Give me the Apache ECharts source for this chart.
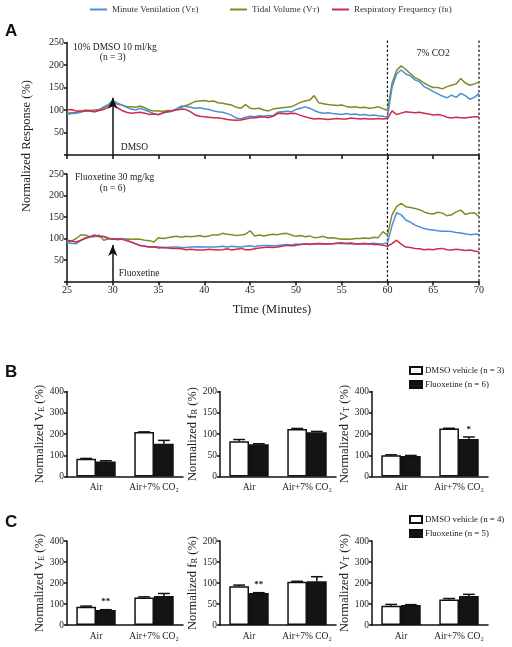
<!DOCTYPE html>
<html><head><meta charset="utf-8">
<script src="https://cdn.jsdelivr.net/npm/echarts@6/dist/echarts.min.js"></script>
<style>html,body{margin:0;padding:0;background:#fff}#c{width:512px;height:647px}</style>
</head><body><div id="c"></div>
<script>
// ---------- Panel A: time course (minutes) ----------
const minutes = [25,25.5,26,26.5,27,27.5,28,28.5,29,29.5,30,30.5,31,31.5,32,32.5,33,33.5,34,34.5,35,35.5,36,36.5,37,37.5,38,38.5,39,39.5,40,40.5,41,41.5,42,42.5,43,43.5,44,44.5,45,45.5,46,46.5,47,47.5,48,48.5,49,49.5,50,50.5,51,51.5,52,52.5,53,53.5,54,54.5,55,55.5,56,56.5,57,57.5,58,58.5,59,59.5,60,60.5,61,61.5,62,62.5,63,63.5,64,64.5,65,65.5,66,66.5,67,67.5,68,68.5,69,69.5,70];
const timeTicks = [25,30,35,40,45,50,55,60,65,70];

// 10% DMSO 10 ml/kg (n = 3)
const dmsoVE = [90,92,93,95,98,97,96,100,107,112,121,116,111,106,102,100,104,100,96,92,89,94,95,97,103,109,108,106,104,105,103,101,98,96,95,92,88,82,80,84,86,85,87,86,88,87,95,96,97,96,101,104,107,104,99,95,93,94,92,91,90,92,90,91,89,90,88,89,87,86,84,150,180,189,180,176,167,163,152,147,141,136,131,127,133,128,137,132,124,128,137];
const dmsoVT = [93,94,95,97,100,99,100,101,105,110,116,113,111,108,107,106,109,105,100,98,98,97,99,98,103,106,110,114,119,120,121,119,120,116,115,113,111,106,104,112,104,103,104,100,98,102,104,105,106,107,112,117,120,122,132,116,114,112,111,110,111,108,106,107,105,106,104,105,107,103,99,160,188,198,190,181,172,167,160,154,150,150,147,152,155,158,170,160,155,158,162];
const dmsoFR = [100,101,98,98,98,99,96,99,101,106,113,105,99,95,93,94,95,93,90,91,90,94,97,99,100,102,101,96,89,86,85,84,83,82,81,79,78,77,78,80,82,83,84,85,83,86,92,93,91,93,92,88,85,82,80,81,80,79,80,81,80,80,82,81,80,81,80,80,81,80,81,98,90,93,96,95,94,95,93,91,89,90,88,84,82,84,83,82,84,85,85];

// Fluoxetine 30 mg/kg (n = 6)
const fluoVE = [90,89,88,95,102,104,105,106,104,100,98,99,100,96,92,87,83,82,80,81,80,79,79,80,80,79,79,80,80,81,80,80,80,81,82,80,82,81,80,82,83,81,83,84,84,83,84,85,86,85,87,86,88,87,88,89,88,87,88,89,88,89,90,88,88,89,88,89,88,87,90,130,160,155,143,138,131,127,123,121,120,118,117,117,116,114,113,111,109,110,110];
const fluoVT = [92,94,100,108,108,104,104,108,96,99,100,97,98,99,98,99,98,96,95,92,102,100,102,104,105,103,105,104,105,107,104,106,109,108,112,110,109,107,108,110,118,106,108,106,108,110,109,111,112,108,105,107,104,106,102,103,105,101,102,100,98,99,98,100,100,101,100,103,102,116,108,155,174,182,174,172,170,167,162,158,157,161,159,153,155,162,166,156,159,160,151];
const fluoFR = [96,94,92,96,100,104,108,104,105,101,98,99,98,95,92,88,84,82,80,81,78,79,78,77,77,76,74,75,74,73,73,75,74,73,74,76,73,75,77,74,74,76,78,79,80,79,80,82,84,83,84,86,87,86,88,87,88,87,88,89,90,88,88,87,88,87,88,86,86,84,82,88,96,87,80,79,77,76,74,75,74,76,77,74,73,75,74,72,73,71,69];

const injectionTime = 30;      // arrow position (min)
const arrowTipTop = 127;       // arrow tip, DMSO panel (%)
const arrowTipBottom = 85;     // arrow tip, fluoxetine panel (%)
const co2Start = 60, co2End = 70;

// ---------- Panels B & C: bar summaries ----------
const barCategories = ['Air', 'Air+7% CO\u2082'];

const B_VE_vehicle = [84, 209],  B_VE_vehicleErr = [1, 1];
const B_VE_fluox   = [71, 154],  B_VE_fluoxErr   = [3, 16];
const B_VE_sig = ['', ''];
const B_FR_vehicle = [83, 112],  B_FR_vehicleErr = [4, 1];
const B_FR_fluox   = [76, 104],  B_FR_fluoxErr   = [1, 2];
const B_FR_sig = ['', ''];
const B_VT_vehicle = [100, 226], B_VT_vehicleErr = [2, 1];
const B_VT_fluox   = [97, 176],  B_VT_fluoxErr   = [2, 10];
const B_VT_sig = ['', '*'];

const C_VE_vehicle = [87, 131],  C_VE_vehicleErr = [3, 3];
const C_VE_fluox   = [71, 138],  C_VE_fluoxErr   = [2, 12];
const C_VE_sig = ['**', ''];
const C_FR_vehicle = [92, 103],  C_FR_vehicleErr = [3, 1];
const C_FR_fluox   = [76, 104],  C_FR_fluoxErr   = [1, 11];
const C_FR_sig = ['**', ''];
const C_VT_vehicle = [92, 122],  C_VT_vehicleErr = [6, 4];
const C_VT_fluox   = [95, 138],  C_VT_fluoxErr   = [2, 8];
const C_VT_sig = ['', ''];

const B_vehName = 'DMSO vehicle (n = 3)', B_fluoName = 'Fluoxetine (n = 6)';
const C_vehName = 'DMSO vehicle (n = 4)', C_fluoName = 'Fluoxetine (n = 5)';

// ---------- styling ----------
const SERIF = '"Liberation Serif","Times New Roman",serif';
const SANS = '"Liberation Sans",Arial,sans-serif';
const COL_VE = '#4a8fd6', COL_VT = '#808b28', COL_FR = '#d12a4c';
const INK = '#111';
const BAR_FRAC = 0.34;

const grids = [
  {left:67, top:42.5, width:412, height:112.5},
  {left:67, top:174, width:412, height:107.5},
  {left:67, top:391.5, width:116, height:85},
  {left:220, top:391.5, width:116, height:85},
  {left:372, top:391.5, width:116, height:85},
  {left:67, top:541, width:116, height:84},
  {left:220, top:541, width:116, height:84},
  {left:372, top:541, width:116, height:84}
].map(g => Object.assign({containLabel:false, outerBoundsMode:'none'}, g));

const axisLineStyle = {color: INK, width: 1.5};

function timeX(gi, labels) {
  return {type:'value', gridIndex:gi, min:25, max:70, interval:5,
    axisLine:{show:true, onZero:false, lineStyle:axisLineStyle},
    axisTick:{show:true, length:4, lineStyle:axisLineStyle},
    axisLabel:{show:labels, fontFamily:SERIF, fontSize:10, color:'#222', margin:4,
      customValues: timeTicks},
    splitLine:{show:false}};
}
function timeY(gi) {
  return {type:'value', gridIndex:gi, min:0, max:250, interval:50,
    axisLine:{show:true, lineStyle:axisLineStyle},
    axisTick:{show:true, length:3, lineStyle:axisLineStyle},
    axisLabel:{fontFamily:SERIF, fontSize:10, color:'#222', margin:3,
      formatter: v => v === 0 ? '' : String(v)},
    splitLine:{show:false}};
}
function barX(gi) {
  return {type:'category', gridIndex:gi, data:barCategories,
    axisLine:{show:true, lineStyle:axisLineStyle}, axisTick:{show:false},
    axisLabel:{fontFamily:SERIF, fontSize:9.5, color:'#222', margin:6, interval:0},
    splitLine:{show:false}};
}
function barY(gi, max, interval, sub) {
  return {type:'value', gridIndex:gi, min:0, max:max, interval:interval,
    axisLine:{show:true, lineStyle:axisLineStyle},
    axisTick:{show:true, length:3, lineStyle:axisLineStyle},
    axisLabel:{fontFamily:SERIF, fontSize:9.5, color:'#222', margin:3},
    splitLine:{show:false},
    name:'{t|Normalized ' + sub[0] + '}{s|' + sub[1] + '}{t| (%)}',
    nameLocation:'middle', nameRotate:90, nameGap:19,
    nameTextStyle:{rich:{
      t:{fontFamily:SERIF, fontSize:12.5, color:'#222'},
      s:{fontFamily:SERIF, fontSize:8.5, color:'#222', verticalAlign:'bottom'}}}};
}

function lineSeries(gi, name, data, color, z) {
  return {type:'line', name:name, xAxisIndex:gi, yAxisIndex:gi,
    data: minutes.map((t, i) => [t, data[i]]),
    showSymbol:false, symbol:'none', z:z,
    lineStyle:{color:color, width:1.5}, itemStyle:{color:color}};
}
function arrowMark(tip) {
  return {silent:true, symbol:['none','arrow'], symbolSize:[7,11],
    lineStyle:{color:INK, width:1.5, type:'solid'}, label:{show:false},
    data:[[{coord:[injectionTime, 0]}, {coord:[injectionTime, tip]}]]};
}

function makeErrRender(sig) {
  return function (params, api) {
    const cat = api.value(0), mean = api.value(1), err = api.value(2), grp = api.value(3);
    const band = api.size([1, 0])[0];
    const bw = band * BAR_FRAC;
    const base = api.coord([cat, mean]);
    const top = api.coord([cat, mean + err]);
    const x = base[0] + (grp === 0 ? -bw / 2 : bw / 2);
    const cap = bw * 0.3;
    const children = [
      {type:'line', shape:{x1:x, y1:base[1], x2:x, y2:top[1]}, style:{stroke:INK, lineWidth:1.5}},
      {type:'line', shape:{x1:x - cap, y1:top[1], x2:x + cap, y2:top[1]}, style:{stroke:INK, lineWidth:1.5}}
    ];
    const s = grp === 1 ? sig[cat] : '';
    if (s) {
      children.push({type:'text', style:{text:s, x:x, y:top[1] - 3, align:'center', verticalAlign:'bottom',
        font:'bold 9px ' + SERIF, fill:INK}});
    }
    return {type:'group', children:children};
  };
}

function barSet(gi, veh, vehErr, flu, fluErr, sig, vehName, fluName) {
  const errData = [[0, veh[0], vehErr[0], 0], [1, veh[1], vehErr[1], 0],
                   [0, flu[0], fluErr[0], 1], [1, flu[1], fluErr[1], 1]];
  return [
    {type:'bar', name:vehName, xAxisIndex:gi, yAxisIndex:gi, data:veh,
      barWidth:(BAR_FRAC*100)+'%', barGap:'0%',
      itemStyle:{color:'#fff', borderColor:INK, borderWidth:1.5}},
    {type:'bar', name:fluName, xAxisIndex:gi, yAxisIndex:gi, data:flu,
      barWidth:(BAR_FRAC*100)+'%', barGap:'0%',
      itemStyle:{color:'#141414', borderColor:INK, borderWidth:1.5}},
    {type:'custom', xAxisIndex:gi, yAxisIndex:gi, data:errData, z:5,
      encode:{x:0, y:1}, renderItem: makeErrRender(sig)}
  ];
}

const NAME_VE = 'Minute Ventilation (VE)', NAME_VT = 'Tidal Volume (VT)', NAME_FR = 'Respiratory Frequency (fR)';
const richLegend = {
  [NAME_VE]: '{n|Minute Ventilation (V}{s|E}{n|)}',
  [NAME_VT]: '{n|Tidal Volume (V}{s|T}{n|)}',
  [NAME_FR]: '{n|Respiratory Frequency (f}{s|R}{n|)}'
};
function topLegend(name, left) {
  return {data:[name], left:left, top:5, icon:'rect', itemWidth:17, itemHeight:2,
    selectedMode:false, padding:0,
    formatter: n => richLegend[n],
    textStyle:{fontFamily:SERIF, fontSize:9, color:'#333',
      rich:{n:{fontFamily:SERIF, fontSize:9, color:'#333'},
            s:{fontFamily:SERIF, fontSize:6.5, color:'#333', verticalAlign:'bottom'}}}};
}
function barLegend(names, top) {
  return {data:names, left:409, top:top, orient:'vertical', icon:'rect',
    itemWidth:12, itemHeight:7, itemGap:5, padding:0, selectedMode:false,
    textStyle:{fontFamily:SERIF, fontSize:8.8, color:'#222', padding:[0,0,0,-2]}};
}

const chart = echarts.init(document.getElementById('c'), null, {renderer:'canvas'});

const option = {
  animation:false,
  backgroundColor:'#fff',
  grid: grids,
  legend: [
    topLegend(NAME_VE, 90), topLegend(NAME_VT, 230), topLegend(NAME_FR, 332),
    barLegend([B_vehName, B_fluoName], 366),
    barLegend([C_vehName, C_fluoName], 515)
  ],
  xAxis: [timeX(0, false), timeX(1, true),
          barX(2), barX(3), barX(4), barX(5), barX(6), barX(7)],
  yAxis: [timeY(0), timeY(1),
          barY(2, 400, 100, ['V','E']), barY(3, 200, 50, ['f','R']), barY(4, 400, 100, ['V','T']),
          barY(5, 400, 100, ['V','E']), barY(6, 200, 50, ['f','R']), barY(7, 400, 100, ['V','T'])],
  series: [
    Object.assign(lineSeries(0, NAME_VT, dmsoVT, COL_VT, 2), {markLine: arrowMark(arrowTipTop)}),
    lineSeries(0, NAME_VE, dmsoVE, COL_VE, 3),
    lineSeries(0, NAME_FR, dmsoFR, COL_FR, 4),
    Object.assign(lineSeries(1, NAME_VT, fluoVT, COL_VT, 2), {markLine: arrowMark(arrowTipBottom)}),
    lineSeries(1, NAME_VE, fluoVE, COL_VE, 3),
    lineSeries(1, NAME_FR, fluoFR, COL_FR, 4),
    ...barSet(2, B_VE_vehicle, B_VE_vehicleErr, B_VE_fluox, B_VE_fluoxErr, B_VE_sig, B_vehName, B_fluoName),
    ...barSet(3, B_FR_vehicle, B_FR_vehicleErr, B_FR_fluox, B_FR_fluoxErr, B_FR_sig, B_vehName, B_fluoName),
    ...barSet(4, B_VT_vehicle, B_VT_vehicleErr, B_VT_fluox, B_VT_fluoxErr, B_VT_sig, B_vehName, B_fluoName),
    ...barSet(5, C_VE_vehicle, C_VE_vehicleErr, C_VE_fluox, C_VE_fluoxErr, C_VE_sig, C_vehName, C_fluoName),
    ...barSet(6, C_FR_vehicle, C_FR_vehicleErr, C_FR_fluox, C_FR_fluoxErr, C_FR_sig, C_vehName, C_fluoName),
    ...barSet(7, C_VT_vehicle, C_VT_vehicleErr, C_VT_fluox, C_VT_fluoxErr, C_VT_sig, C_vehName, C_fluoName)
  ]
};
chart.setOption(option);

// annotations and dashed CO2 markers (positions from the axes)
function txt(text, x, y, size, opts) {
  return Object.assign({type:'text', x:x, y:y, silent:true,
    style:{text:text, font:size + 'px ' + SERIF, fill:'#222', align:'center', verticalAlign:'middle'}}, opts || {});
}
const g = [];
g.push({type:'text', x:5, y:31, style:{text:'A', font:'bold 17px ' + SANS, fill:INK, align:'left', verticalAlign:'middle'}});
g.push({type:'text', x:5, y:372, style:{text:'B', font:'bold 17px ' + SANS, fill:INK, align:'left', verticalAlign:'middle'}});
g.push({type:'text', x:5, y:522, style:{text:'C', font:'bold 17px ' + SANS, fill:INK, align:'left', verticalAlign:'middle'}});
g.push(txt('Normalized Response (%)', 27, 146, 12.5, {rotation: Math.PI / 2}));
g.push(txt('Time (Minutes)', 272, 310, 12.5));

const pInj0 = chart.convertToPixel({gridIndex:0}, [injectionTime, 0]);
const pInj1 = chart.convertToPixel({gridIndex:1}, [injectionTime, 0]);
g.push({type:'text', x:73, y:47, style:{text:'10% DMSO 10 ml/kg', font:'9.5px ' + SERIF, fill:'#222', align:'left', verticalAlign:'middle'}});
g.push(txt('(n = 3)', pInj0[0], 57, 9.5));
g.push({type:'text', x:pInj0[0] + 8, y:pInj0[1] - 8, style:{text:'DMSO', font:'9.5px ' + SERIF, fill:'#222', align:'left', verticalAlign:'middle'}});
g.push({type:'text', x:75, y:177, style:{text:'Fluoxetine 30 mg/kg', font:'9.5px ' + SERIF, fill:'#222', align:'left', verticalAlign:'middle'}});
g.push(txt('(n = 6)', pInj1[0], 188, 9.5));
g.push({type:'text', x:pInj1[0] + 6, y:pInj1[1] - 8, style:{text:'Fluoxetine', font:'9.5px ' + SERIF, fill:'#222', align:'left', verticalAlign:'middle'}});

const c60t = chart.convertToPixel({gridIndex:0}, [co2Start, 250]);
const c60b = chart.convertToPixel({gridIndex:1}, [co2Start, 0]);
const c70t = chart.convertToPixel({gridIndex:0}, [co2End, 250]);
const c70b = chart.convertToPixel({gridIndex:1}, [co2End, 0]);
g.push(txt('7% CO2', (c60t[0] + c70t[0]) / 2, 53, 9.5));
[[c60t, c60b], [c70t, c70b]].forEach(([a, b]) => {
  g.push({type:'line', silent:true, z:1,
    shape:{x1:a[0], y1:a[1] - 2, x2:b[0], y2:b[1]},
    style:{stroke:INK, lineWidth:1.2, lineDash:[2.5, 2]}});
});
chart.setOption({graphic: g});
</script>
</body></html>
